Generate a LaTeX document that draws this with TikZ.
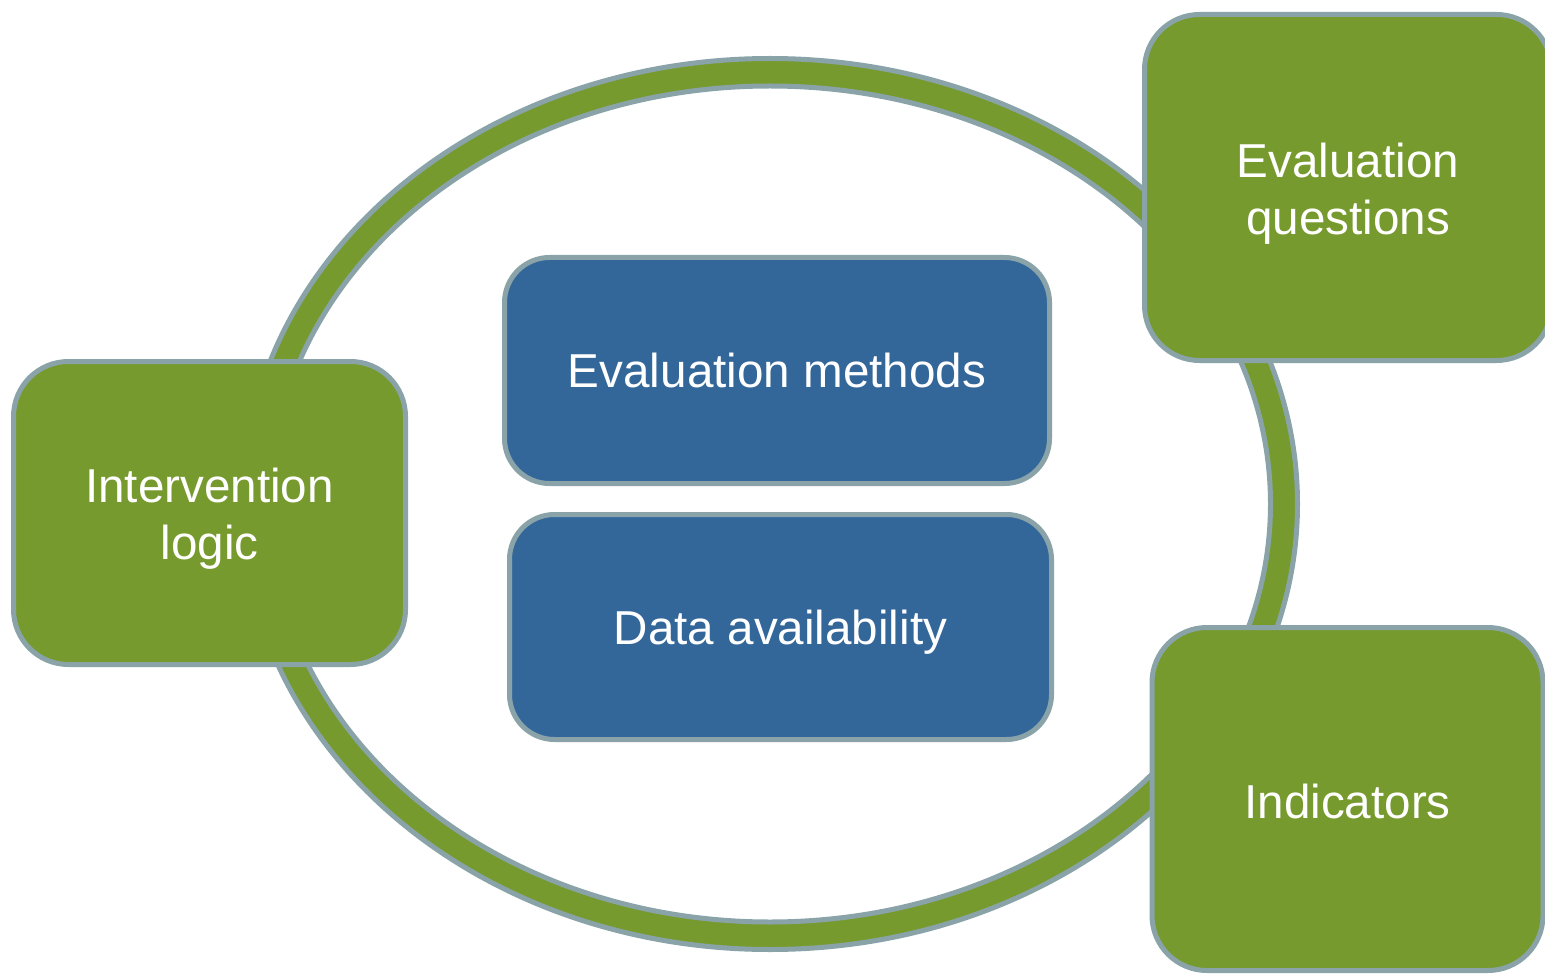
\documentclass[tikz,border=0pt]{standalone}
\usepackage{fontspec}
\setmainfont{Liberation Sans}
\definecolor{ringgreen}{RGB}{118,154,45}
\definecolor{edgegray}{RGB}{137,163,169}
\definecolor{boxblue}{RGB}{52,103,153}
\tikzset{
  boxtext/.style={text=white, align=center, font=\fontsize{47.6}{57}\selectfont, inner sep=0pt},
  greenbox/.style={draw=edgegray, line width=5pt, fill=ringgreen, rounded corners=55pt, inner sep=0pt},
  bluebox/.style={draw=edgegray, line width=5pt, fill=boxblue, rounded corners=45pt, inner sep=0pt}
}
\begin{document}
\begin{tikzpicture}[x=1pt,y=-1pt]
\useasboundingbox (0,0) rectangle (1545,976);
\coordinate (c) at (770,504);
% ring
\fill[ringgreen, even odd rule] (c) ellipse [x radius=527.5, y radius=445.5] (c) ellipse [x radius=500.5, y radius=418];
\draw[edgegray, line width=5pt] (c) ellipse [x radius=527.5, y radius=445.5];
\draw[edgegray, line width=5pt] (c) ellipse [x radius=500.5, y radius=418];
% boxes
\node[greenbox, minimum width=392pt, minimum height=303pt,
  label={[boxtext, yshift=-6pt]center:Intervention\\logic}] (il) at (209.5,513) {};
\node[greenbox, minimum width=407pt, minimum height=346pt,
  label={[boxtext, yshift=-6pt]center:Evaluation\\questions}] (eq) at (1348,187.5) {};
\node[greenbox, minimum width=391pt, minimum height=343pt,
  label={[boxtext, yshift=-2pt]center:Indicators}] (ind) at (1347.5,799) {};
\node[bluebox, minimum width=545pt, minimum height=226pt,
  label={[boxtext]center:Evaluation methods}] (em) at (777,370.5) {};
\node[bluebox, minimum width=542pt, minimum height=225pt,
  label={[boxtext, yshift=-5pt]center:Data availability}] (da) at (780.5,627) {};
\end{tikzpicture}
\end{document}
